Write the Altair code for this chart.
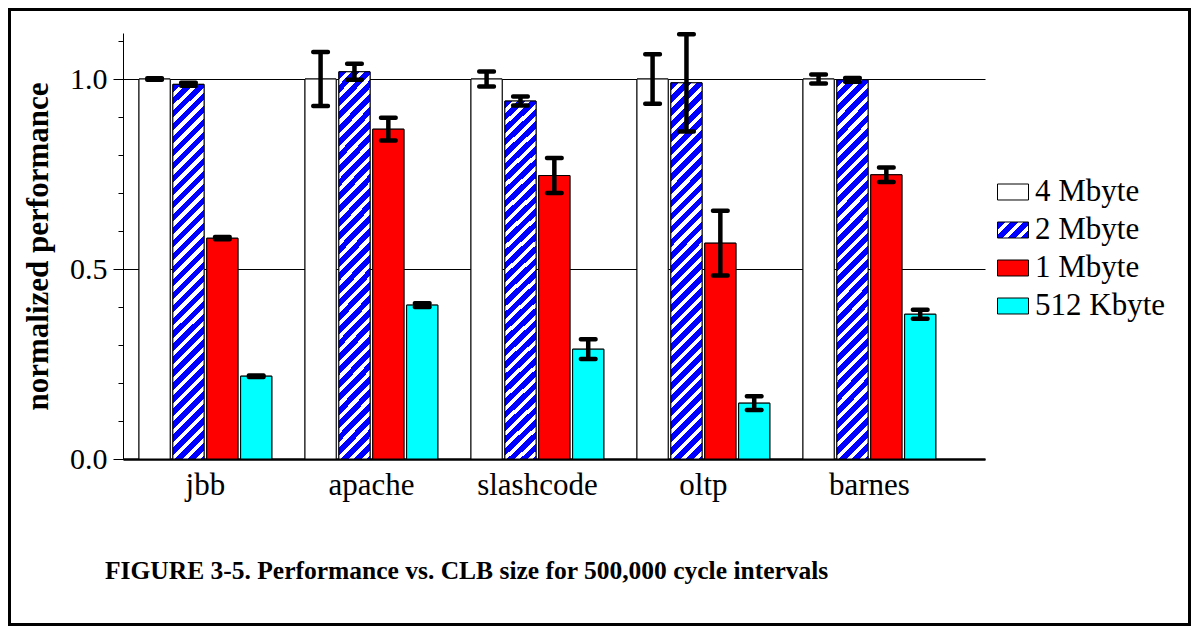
import altair as alt
import pandas as pd

# ---------------- data ----------------
benchmarks = ["jbb", "apache", "slashcode", "oltp", "barnes"]
sizes = ["4 Mbyte", "2 Mbyte", "1 Mbyte", "512 Kbyte"]

perf_4m = [1.0, 1.0, 1.0, 1.0, 1.0]
perf_2m = [0.986, 1.019, 0.942, 0.990, 0.998]
perf_1m = [0.581, 0.868, 0.746, 0.568, 0.748]
perf_512k = [0.218, 0.405, 0.289, 0.147, 0.381]

err_4m = [0.002, 0.071, 0.020, 0.065, 0.012]
err_2m = [0.004, 0.021, 0.012, 0.128, 0.005]
err_1m = [0.003, 0.030, 0.046, 0.085, 0.019]
err_512k = [0.002, 0.005, 0.026, 0.018, 0.012]

y_major_ticks = [0.0, 0.5, 1.0]
y_minor_ticks = [0.0, 0.1, 0.2, 0.3, 0.4, 0.5, 0.6, 0.7, 0.8, 0.9, 1.0, 1.1]
y_title = "normalized performance"
caption = "FIGURE 3-5. Performance vs. CLB size for 500,000 cycle intervals"

perf = {sizes[0]: perf_4m, sizes[1]: perf_2m, sizes[2]: perf_1m, sizes[3]: perf_512k}
errs = {sizes[0]: err_4m, sizes[1]: err_2m, sizes[2]: err_1m, sizes[3]: err_512k}

rows = []
for s in sizes:
    for i, b in enumerate(benchmarks):
        v = perf[s][i]
        e = errs[s][i]
        rows.append({"bench": b, "size": s, "value": v, "lo": v - e, "hi": v + e})
df = pd.DataFrame(rows)

# ---------------- layout / style ----------------
FONT = "Liberation Serif"
W, H = 862, 426
PAD = {"left": 115, "top": 25, "right": 206, "bottom": 167}
BLUE = "#0000ff"


def stripe_gradient_expr(w, h, period, white_frac):
    """Diagonal '/' stripes as a hard-stop linear gradient in bbox units."""
    L = w + h
    c = L / (w * w + h * h)
    gx, gy = c * w, c * h
    blue_len = period * (1 - white_frac)
    stops = []
    k = 0
    while k * period < L:
        s0 = k * period
        s1 = min(s0 + blue_len, L)
        s2 = min(s0 + period, L)
        stops += [(s0 / L, BLUE), (s1 / L, BLUE), (s1 / L, "#ffffff"), (s2 / L, "#ffffff")]
        k += 1
    txt = ",".join("{offset:%.5f,color:'%s'}" % (o, col) for o, col in stops)
    return "{gradient:'linear',x1:0,y1:0,x2:%.5f,y2:%.5f,stops:[%s]}" % (gx, gy, txt)


bar_grad = stripe_gradient_expr(31.17, 375.0, 13.0, 0.4)
legend_grad = stripe_gradient_expr(31.0, 16.0, 13.0, 0.4)

x_scale = alt.Scale(domain=benchmarks, paddingInner=0.2, paddingOuter=0.1964, align=0.2454)
xo_scale = alt.Scale(domain=sizes, paddingInner=0.08, paddingOuter=0)
y_scale = alt.Scale(domain=[0, 1.1211], nice=False, zero=True)

x_axis = alt.Axis(title=None, labelFont=FONT, labelFontSize=31, labelColor="black",
                  ticks=False, tickSize=0, labelPadding=11, labelAngle=0,
                  domainColor="black", domainWidth=2.5, grid=False)
y_axis_major = alt.Axis(values=y_major_ticks, format=".1f", orient="left",
                        title=y_title, titleFont=FONT, titleFontSize=31,
                        titleFontWeight="bold", titleColor="black", titlePadding=15,
                        labelFont=FONT, labelFontSize=30, labelColor="black",
                        labelPadding=6, tickSize=10, tickColor="black", tickWidth=1,
                        domainColor="black", domainWidth=1,
                        grid=True, gridColor="black", gridWidth=1)
y_axis_minor = alt.Axis(values=y_minor_ticks, orient="left", labels=False, title=None,
                        tickSize=5, tickColor="black", tickWidth=1, domain=False, grid=False)

X = alt.X("bench:N", scale=x_scale, axis=x_axis, sort=benchmarks)
XO = alt.XOffset("size:N", scale=xo_scale, sort=sizes)

base = alt.Chart(df)

# under-layer: carries the legend (fill channel) and is fully covered by the bars above
legend_bars = base.mark_bar(stroke="black", strokeWidth=1).encode(
    x=X, xOffset=XO,
    y=alt.Y("value:Q", scale=y_scale, axis=y_axis_major),
    fill=alt.Fill("size:N", sort=sizes,
                  scale=alt.Scale(domain=sizes,
                                  range=["white", {"expr": legend_grad}, "red", "cyan"]),
                  legend=alt.Legend(title=None, orient="none", legendX=874, legendY=143,
                                    symbolType="M-1,-0.516H1V0.516H-1Z", symbolSize=961,
                                    symbolStrokeColor="black", symbolStrokeWidth=1,
                                    symbolOpacity=1, labelFont=FONT, labelFontSize=31,
                                    labelColor="black", labelOffset=6, rowPadding=7,
                                    padding=0)),
)

bars = base.mark_bar(stroke="black", strokeWidth=1).encode(
    x=X, xOffset=XO,
    y=alt.Y("value:Q", scale=y_scale, axis=None),
    color=alt.Color("size:N", sort=sizes,
                    scale=alt.Scale(domain=sizes,
                                    range=["white", {"expr": bar_grad}, "red", "cyan"]),
                    legend=None),
)

err_rule = base.mark_rule(color="black", strokeWidth=4.5).encode(
    x=X, xOffset=XO,
    y=alt.Y("lo:Q", scale=y_scale, axis=y_axis_minor),
    y2="hi:Q",
)

cap_lo = base.mark_tick(color="black", thickness=4.5, size=19, cornerRadius=2, opacity=1).encode(
    x=X, xOffset=XO, y=alt.Y("lo:Q", scale=y_scale, axis=None),
)
cap_hi = base.mark_tick(color="black", thickness=4.5, size=19, cornerRadius=2, opacity=1).encode(
    x=X, xOffset=XO, y=alt.Y("hi:Q", scale=y_scale, axis=None),
)

frame = alt.Chart(alt.Data(values=[{"frame": 1}])).mark_rect(
    filled=False, stroke="black", strokeWidth=3
).encode(
    x=alt.value(-113.5), x2=alt.value(W + PAD["right"] - 1.5),
    y=alt.value(-23.5), y2=alt.value(H + PAD["bottom"] - 1.5),
)

caption_text = alt.Chart(alt.Data(values=[{"caption": caption}])).mark_text(
    align="left", baseline="alphabetic", font=FONT, fontSize=25.5,
    fontWeight="bold", color="black"
).encode(
    x=alt.value(-18), y=alt.value(546), text="caption:N",
)

chart = alt.layer(legend_bars, bars, err_rule, cap_lo, cap_hi, frame, caption_text).resolve_axis(
    y="independent"
).properties(
    width=W, height=H, padding=PAD,
    autosize=alt.AutoSizeParams(type="none"),
    background="white",
).configure_view(stroke=None)

chart.save("out.html", embed_options={"renderer": "svg", "actions": False})
